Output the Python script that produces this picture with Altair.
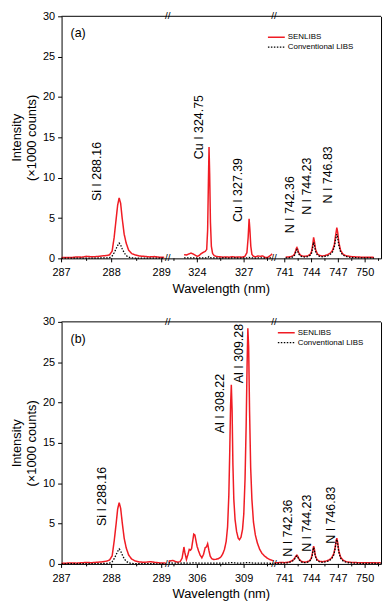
import altair as alt
import pandas as pd

FONT = "Liberation Sans"
RED = "#f01c24"
SERIES = ["SENLIBS", "Conventional LIBS"]

# ---------------- panel (a) ----------------
A1_WL = [287.00, 287.10, 287.20, 287.30, 287.40, 287.50, 287.60, 287.70, 287.80, 287.90,
         287.96, 288.01, 288.05, 288.09, 288.12, 288.15, 288.18, 288.21, 288.25, 288.29,
         288.34, 288.40, 288.46, 288.55, 288.65, 288.75, 288.85, 288.95, 289.05]
A1_SEN = [0.10, 0.12, 0.10, 0.18, 0.15, 0.25, 0.20, 0.22, 0.30, 0.35,
          0.45, 0.90, 2.6, 4.9, 6.6, 7.5, 6.8, 5.0, 3.0, 1.9,
          1.0, 0.6, 0.45, 0.30, 0.25, 0.18, 0.22, 0.15, 0.12]
A1_CON = [0.02, 0.03, 0.02, 0.03, 0.02, 0.03, 0.03, 0.04, 0.05, 0.06,
          0.10, 0.30, 0.70, 1.20, 1.60, 1.90, 1.65, 1.20, 0.70, 0.35,
          0.15, 0.07, 0.04, 0.03, 0.03, 0.02, 0.03, 0.02, 0.02]

A2_WL = [323.15, 323.30, 323.45, 323.60, 323.72, 323.85, 324.00, 324.12, 324.25, 324.38,
         324.50, 324.60, 324.66, 324.71, 324.75, 324.79, 324.84, 324.90, 324.98, 325.08,
         325.25, 325.45, 325.65, 325.85, 326.05, 326.25, 326.45, 326.65, 326.85, 327.05,
         327.18, 327.26, 327.32, 327.37, 327.43, 327.50, 327.60, 327.75, 327.90, 328.05,
         328.20, 328.35, 328.50, 328.65, 328.80]
A2_SEN = [0.45, 0.42, 0.55, 0.65, 0.55, 0.40, 0.25, 0.35, 0.60, 0.75,
          0.85, 1.1, 3.5, 9.5, 13.8, 10.5, 4.5, 1.5, 0.6, 0.35,
          0.22, 0.20, 0.15, 0.18, 0.15, 0.20, 0.15, 0.18, 0.15, 0.25,
          0.7, 2.6, 4.9, 3.6, 1.5, 0.5, 0.25, 0.20, 0.30, 0.25,
          0.30, 0.12, 0.10, 0.30, 0.55]
A2_CON = [0.05, 0.05, 0.06, 0.05, 0.05, 0.05, 0.04, 0.05, 0.05, 0.06,
          0.06, 0.07, 0.10, 0.16, 0.22, 0.16, 0.09, 0.06, 0.05, 0.05,
          0.05, 0.04, 0.05, 0.05, 0.04, 0.05, 0.05, 0.04, 0.05, 0.05,
          0.06, 0.09, 0.13, 0.10, 0.07, 0.05, 0.05, 0.04, 0.05, 0.05,
          0.05, 0.04, 0.04, 0.05, 0.05]

A3_WL = [741.10, 741.40, 741.70, 741.95, 742.10, 742.22, 742.30, 742.36, 742.44, 742.55,
         742.75, 743.00, 743.30, 743.60, 743.85, 744.00, 744.12, 744.23, 744.32, 744.45,
         744.65, 744.90, 745.20, 745.50, 745.80, 746.10, 746.35, 746.55, 746.70, 746.83,
         746.93, 747.05, 747.25, 747.50, 747.80, 748.20, 748.60, 749.00, 749.50, 750.00,
         750.50, 751.00]
A3_SEN = [0.15, 0.18, 0.22, 0.35, 0.55, 0.95, 1.25, 1.35, 1.15, 0.75,
          0.40, 0.28, 0.25, 0.32, 0.50, 0.85, 1.60, 2.60, 2.10, 1.10,
          0.55, 0.35, 0.30, 0.35, 0.45, 0.65, 1.00, 1.70, 2.90, 3.80,
          3.20, 2.00, 1.00, 0.55, 0.35, 0.25, 0.20, 0.18, 0.15, 0.15,
          0.15, 0.12]
A3_CON = [0.05, 0.07, 0.10, 0.20, 0.40, 0.75, 1.00, 1.10, 0.90, 0.55,
          0.28, 0.18, 0.16, 0.22, 0.38, 0.65, 1.25, 2.00, 1.65, 0.85,
          0.40, 0.25, 0.20, 0.24, 0.32, 0.50, 0.80, 1.40, 2.40, 3.00,
          2.55, 1.60, 0.80, 0.42, 0.25, 0.15, 0.10, 0.08, 0.06, 0.05,
          0.05, 0.04]

A_LABELS = ["Si I 288.16", "Cu I 324.75", "Cu I 327.39", "N I 742.36", "N I 744.23", "N I 746.83"]
A_LABEL_SEG = [0, 1, 1, 2, 2, 2]
A_LABEL_WL = [287.71, 324.08, 326.62, 741.60, 743.52, 745.81]
A_LABEL_I = [7.1, 12.3, 4.5, 3.1, 5.4, 6.8]

# ---------------- panel (b) ----------------
B1_WL = [287.00, 287.10, 287.20, 287.30, 287.40, 287.50, 287.60, 287.70, 287.80, 287.90,
         287.96, 288.01, 288.05, 288.09, 288.12, 288.15, 288.18, 288.21, 288.25, 288.29,
         288.34, 288.40, 288.46, 288.55, 288.65, 288.78, 288.88, 288.98, 289.08]
B1_SEN = [0.08, 0.10, 0.12, 0.10, 0.15, 0.18, 0.15, 0.20, 0.25, 0.35,
          0.50, 1.00, 2.8, 5.0, 6.8, 7.6, 6.9, 5.2, 3.2, 2.0,
          1.1, 0.6, 0.40, 0.25, 0.20, 0.28, 0.18, 0.12, 0.10]
B1_CON = [0.02, 0.02, 0.03, 0.02, 0.03, 0.03, 0.03, 0.04, 0.05, 0.06,
          0.10, 0.28, 0.65, 1.15, 1.55, 1.85, 1.60, 1.15, 0.65, 0.32,
          0.14, 0.06, 0.04, 0.03, 0.03, 0.03, 0.02, 0.02, 0.02]

B2_WL = [304.15, 304.30, 304.45, 304.60, 304.75, 304.90, 305.02, 305.10, 305.14, 305.20,
         305.30, 305.40, 305.48, 305.56, 305.63, 305.70, 305.77, 305.84, 305.90, 305.98,
         306.08, 306.18, 306.29, 306.40, 306.50, 306.58, 306.66, 306.74, 306.82, 306.92,
         307.05, 307.20, 307.35, 307.50, 307.62, 307.74, 307.85, 307.94, 308.02, 308.08,
         308.13, 308.18, 308.23, 308.28, 308.34, 308.42, 308.52, 308.62, 308.70, 308.80,
         308.90, 308.98, 309.06, 309.13, 309.19, 309.24, 309.29, 309.35, 309.42, 309.50,
         309.60, 309.72, 309.85, 310.00, 310.15, 310.30, 310.50, 310.70, 310.88]
B2_SEN = [0.30, 0.40, 0.42, 0.30, 0.22, 0.30, 0.70, 1.60, 2.10, 1.40,
          0.55, 1.20, 1.80, 1.70, 1.90, 2.80, 3.70, 3.60, 3.00, 2.20,
          1.60, 1.10, 0.75, 1.20, 2.00, 2.10, 2.50, 1.70, 1.00, 0.65,
          0.55, 0.58, 0.65, 0.85, 1.20, 1.80, 2.80, 4.60, 8.50, 14.0,
          19.5, 22.2, 19.0, 12.5, 8.0, 5.5, 4.0, 3.2, 3.0, 3.3,
          4.3, 6.2, 10.5, 17.0, 24.5, 29.2, 27.0, 19.0, 12.0, 8.0,
          5.2, 3.6, 2.6, 1.8, 1.3, 1.0, 0.7, 0.5, 0.4]
B2_CON = [0.12, 0.12, 0.11, 0.10, 0.10, 0.10, 0.10, 0.11, 0.12, 0.11,
          0.10, 0.10, 0.11, 0.11, 0.11, 0.12, 0.13, 0.13, 0.12, 0.11,
          0.11, 0.10, 0.10, 0.10, 0.11, 0.11, 0.11, 0.11, 0.10, 0.10,
          0.10, 0.10, 0.10, 0.10, 0.10, 0.11, 0.11, 0.12, 0.13, 0.14,
          0.15, 0.16, 0.15, 0.14, 0.13, 0.12, 0.11, 0.11, 0.11, 0.11,
          0.11, 0.12, 0.13, 0.15, 0.17, 0.18, 0.17, 0.15, 0.13, 0.12,
          0.11, 0.10, 0.10, 0.10, 0.09, 0.09, 0.09, 0.08, 0.08]

B3_WL = [739.85, 740.20, 740.60, 741.00, 741.40, 741.75, 742.00, 742.15, 742.26, 742.36,
         742.46, 742.60, 742.85, 743.15, 743.45, 743.75, 743.95, 744.08, 744.16, 744.23,
         744.31, 744.42, 744.60, 744.90, 745.25, 745.60, 745.95, 746.25, 746.50, 746.65,
         746.76, 746.83, 746.92, 747.05, 747.25, 747.55, 747.90, 748.30, 748.80, 749.30,
         749.80, 750.30, 750.80, 751.30, 751.75]
B3_SEN = [0.15, 0.15, 0.18, 0.16, 0.22, 0.35, 0.55, 0.80, 1.00, 1.10,
          0.95, 0.60, 0.32, 0.22, 0.25, 0.38, 0.65, 1.20, 1.80, 2.20,
          1.85, 1.05, 0.55, 0.32, 0.28, 0.35, 0.48, 0.75, 1.30, 2.10,
          2.90, 3.20, 2.70, 1.60, 0.85, 0.45, 0.28, 0.20, 0.18, 0.15,
          0.15, 0.14, 0.15, 0.13, 0.14]
B3_CON = [0.08, 0.08, 0.10, 0.10, 0.15, 0.28, 0.45, 0.70, 0.90, 1.00,
          0.85, 0.52, 0.25, 0.15, 0.18, 0.30, 0.55, 1.05, 1.65, 2.05,
          1.70, 0.95, 0.45, 0.25, 0.20, 0.26, 0.38, 0.62, 1.15, 1.95,
          2.75, 3.05, 2.55, 1.45, 0.72, 0.35, 0.20, 0.13, 0.10, 0.08,
          0.08, 0.07, 0.08, 0.07, 0.07]

B_LABELS = ["Si I 288.16", "Al I 308.22", "Al I 309.28", "N I 742.36", "N I 744.23", "N I 746.83"]
B_LABEL_SEG = [0, 1, 1, 2, 2, 2]
B_LABEL_WL = [287.81, 307.48, 308.68, 741.34, 743.52, 746.18]
B_LABEL_I = [4.7, 16.2, 22.4, 0.9, 1.5, 2.5]

# axis layout of the broken x axis
SEG1_DOMAIN = [287.0, 289.12]
A2_DOMAIN = [322.1, 328.91]
B2_DOMAIN = [304.1, 310.91]
SEG3_DOMAIN = [739.78, 751.78]
SEG1_TICKS = [287, 288, 289]
A2_TICKS = [324, 327]
B2_TICKS = [306, 309]
SEG3_TICKS = [741, 744, 747, 750]
SEG1_MINOR = [287.5, 288.5]
A2_MINOR = [322.5, 325.5, 328.5]
B2_MINOR = [304.5, 307.5, 310.5]
SEG3_MINOR = [742.5, 745.5, 748.5, 751.5]
Y_TICKS = [0, 5, 10, 15, 20, 25, 30]
WIDTHS = [107, 107, 108]
HEIGHT = 244


def segment(wl, sen, con, dom, ticks, minors, w, h, ann, pos, tag, leg_pos):
    df = pd.DataFrame({
        "wl": list(wl) * 2,
        "I": list(sen) + list(con),
        "series": [SERIES[0]] * len(wl) + [SERIES[1]] * len(wl),
    })
    xscale = alt.Scale(domain=dom, nice=False, zero=False)
    yscale = alt.Scale(domain=[0, 30], nice=False, zero=False)
    xaxis = alt.Axis(labels=False, ticks=False, domain=True, titlePadding=24,
                     title="Wavelength (nm)" if pos == 1 else None)
    if pos == 0:
        yaxis = alt.Axis(values=Y_TICKS, labelOverlap=False,
                         title=["Intensity", "(\u00d71000 counts)"])
    elif pos == 1:
        yaxis = None
    else:
        yaxis = alt.Axis(orient="right", labels=False, ticks=False, title=None)
    cscale = alt.Scale(domain=SERIES, range=[RED, "black"])
    dscale = alt.Scale(domain=SERIES, range=[[1, 0], [1.5, 1.5]])
    color = alt.Color("series:N", scale=cscale, legend=None)
    dash = alt.StrokeDash("series:N", scale=dscale, legend=None)

    base = alt.Chart(df).encode(
        x=alt.X("wl:Q", scale=xscale, axis=xaxis),
        y=alt.Y("I:Q", scale=yscale, axis=yaxis),
        color=color,
        strokeDash=dash,
    )
    red = base.transform_filter(alt.datum.series == SERIES[0]).mark_line(strokeWidth=1.5)
    black = base.transform_filter(alt.datum.series == SERIES[1]).mark_line(strokeWidth=1.3)
    layers = [red, black]

    if ann:
        adf = pd.DataFrame({"wl": [a[0] for a in ann], "I": [a[1] for a in ann], "t": [a[2] for a in ann]})
        layers.append(alt.Chart(adf).mark_text(angle=270, align="left", baseline="middle",
                                                fontSize=12.5, font=FONT, color="black").encode(
            x=alt.X("wl:Q"), y=alt.Y("I:Q"), text="t:N"))

    # top frame line
    layers.append(alt.Chart(pd.DataFrame({"I": [30]})).mark_rule(color="black", strokeWidth=1)
                  .encode(y="I:Q"))

    # x ticks (major + minor) and tick labels
    tdf = pd.DataFrame({"wl": ticks, "lab": [str(t) for t in ticks]})
    layers.append(alt.Chart(tdf).mark_rule(color="black", strokeWidth=1).encode(
        x="wl:Q", y=alt.value(h), y2=alt.value(h + 4)))
    layers.append(alt.Chart(tdf).mark_text(fontSize=11, font=FONT, color="black",
                                           align="center", baseline="middle").encode(
        x="wl:Q", y=alt.value(h + 15), text="lab:N"))
    mdf = pd.DataFrame({"wl": minors})
    layers.append(alt.Chart(mdf).mark_rule(color="black", strokeWidth=1).encode(
        x="wl:Q", y=alt.value(h), y2=alt.value(h + 2.5)))

    one = pd.DataFrame({"k": [0]})
    if pos < 2:
        for yy in (0, h):
            layers.append(alt.Chart(one).mark_text(text="//", fontSize=10, font=FONT, color="black",
                                                   align="center", baseline="middle").encode(
                x=alt.value(w), y=alt.value(yy)))
    if pos == 0:
        layers.append(alt.Chart(one).mark_text(text=tag, fontSize=12.5, font=FONT, color="black",
                                               align="left", baseline="middle").encode(
            x=alt.value(9), y=alt.value(17)))
    if pos == 2:
        lx, ly = leg_pos
        for k, s in enumerate(SERIES):
            sdf = pd.DataFrame({"series": [s]})
            layers.append(alt.Chart(sdf).mark_rule(strokeWidth=1.5 if k == 0 else 1.3).encode(
                x=alt.value(lx), x2=alt.value(lx + 17), y=alt.value(ly + 10 * k),
                color=alt.Color("series:N", scale=cscale, legend=None),
                strokeDash=alt.StrokeDash("series:N", scale=dscale, legend=None)))
            layers.append(alt.Chart(sdf).mark_text(fontSize=8, font=FONT, color="black",
                                                   align="left", baseline="middle").encode(
                x=alt.value(lx + 20), y=alt.value(ly + 10 * k), text="series:N"))
    return alt.layer(*layers).properties(width=w, height=h)


def panel(segs, labels, label_seg, label_wl, label_i, h, tag, leg_pos):
    charts = []
    for i, (wl, sen, con, dom, ticks, minors) in enumerate(segs):
        ann = [(label_wl[j], label_i[j], labels[j]) for j in range(len(labels)) if label_seg[j] == i]
        charts.append(segment(wl, sen, con, dom, ticks, minors, WIDTHS[i], h, ann, i, tag, leg_pos))
    return alt.hconcat(*charts, spacing=0, bounds="flush")


panel_a = panel([
    (A1_WL, A1_SEN, A1_CON, SEG1_DOMAIN, SEG1_TICKS, SEG1_MINOR),
    (A2_WL, A2_SEN, A2_CON, A2_DOMAIN, A2_TICKS, A2_MINOR),
    (A3_WL, A3_SEN, A3_CON, SEG3_DOMAIN, SEG3_TICKS, SEG3_MINOR),
], A_LABELS, A_LABEL_SEG, A_LABEL_WL, A_LABEL_I, HEIGHT, "(a)", (-6, 21))

panel_b = panel([
    (B1_WL, B1_SEN, B1_CON, SEG1_DOMAIN, SEG1_TICKS, SEG1_MINOR),
    (B2_WL, B2_SEN, B2_CON, B2_DOMAIN, B2_TICKS, B2_MINOR),
    (B3_WL, B3_SEN, B3_CON, SEG3_DOMAIN, SEG3_TICKS, SEG3_MINOR),
], B_LABELS, B_LABEL_SEG, B_LABEL_WL, B_LABEL_I, HEIGHT, "(b)", (4, 11))

chart = alt.vconcat(panel_a, panel_b, spacing=21).properties(
    padding={"left": 2, "top": 0, "right": 0, "bottom": 0},
    background="white",
).configure_view(stroke=None).configure_axis(
    labelFont=FONT, labelFontSize=11, labelColor="black",
    titleFont=FONT, titleFontSize=13, titleFontWeight="normal", titleColor="black",
    domainColor="black", domainWidth=1, tickColor="black", tickSize=4, grid=False,
).configure_axisY(labelPadding=3, titlePadding=4, titleLineHeight=15)

chart.save("out.html", embed_options={"renderer": "svg", "actions": False})
